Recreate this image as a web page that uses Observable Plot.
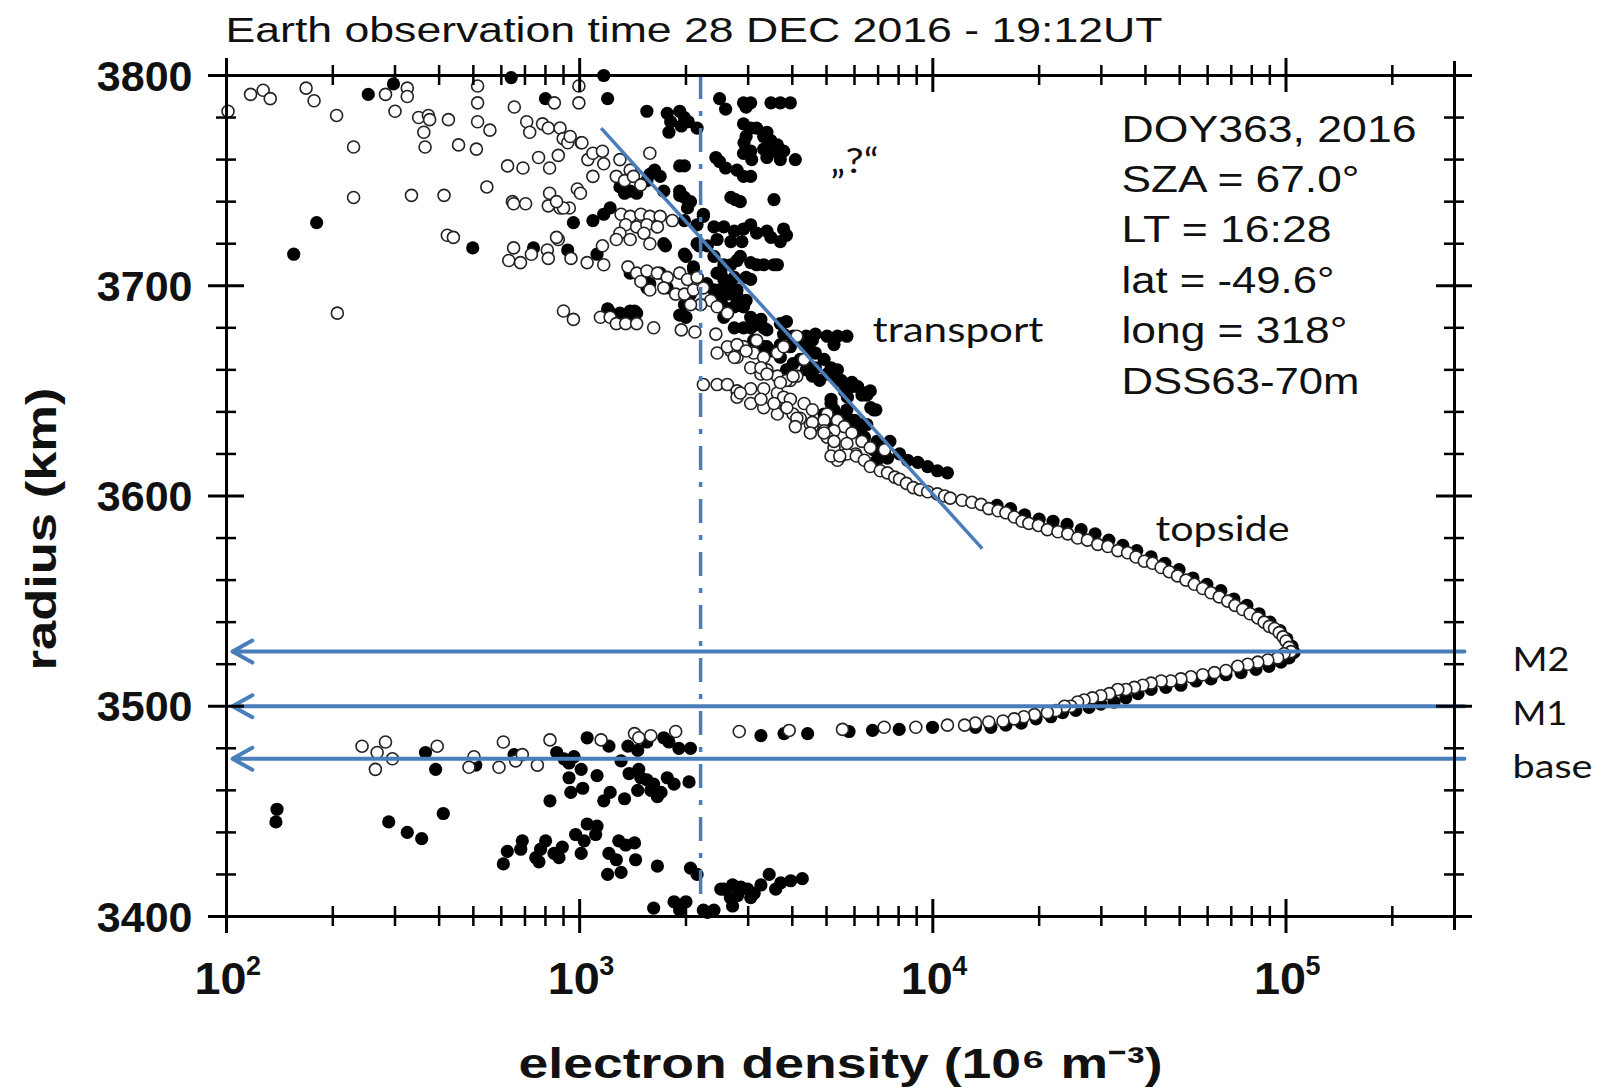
<!DOCTYPE html>
<html><head><meta charset="utf-8">
<script src="https://cdn.jsdelivr.net/npm/d3@7"></script>
<script src="https://cdn.jsdelivr.net/npm/@observablehq/plot@0.6"></script>
<style>html,body{margin:0;padding:0;background:#fff;} svg{display:block;}</style>
</head><body><div id="chart"></div>
<script>
// ---------- DATA: [electron density (10^6 m^-3), radius (km)] ----------
const openUpper = [
[117,3791],[127,3793],[133,3789],[168,3794],[177,3788],[205,3781],[229,3766],[229,3742],[206,3687],[282,3791],[300,3783],[325,3794],[325,3790],[350,3780],[373,3781],[376,3779],[362,3773],[365,3766],[425,3779],[454,3767],[510,3765],[514,3778],[514,3787],[514,3795],[557,3774],[334,3743],[413,3743],[546,3747],[422,3724],[439,3723],[653,3785],[708,3778],[722,3773],[625,3757],[691,3756],[765,3761],[822,3756],[870,3762],[785,3777],[815,3775],[880,3775],[848,3787],[995,3787],[995,3795],[898,3770],[925,3768],[1010,3768],[985,3746],[1005,3744],[822,3744],[815,3738],[880,3737],[935,3737],[645,3740],[650,3739],[703,3739],[650,3718],[630,3712],[680,3711],[730,3715],[810,3717],[815,3713],[870,3722],[945,3713],[1050,3711],[1090,3752],[1055,3760],[1090,3763],[1160,3764],[1170,3758],[900,3688],[960,3684],[1145,3685],[1170,3710],[1160,3719],[101,3783],[900,3737],[860,3740],[860,3723],[940,3771],[1015,3768],
[1300,3760],[1390,3755],[1270,3752],[1340,3750],[1420,3752],[1490,3748],[1580,3763],[1310,3734],[1390,3733],[1490,3734],[1580,3733],[1690,3733],[1830,3731],[1350,3729],[1450,3728],[1550,3729],[1660,3728],[1300,3725],[1390,3722],[1520,3725],[1580,3720],[1270,3722],[1370,3709],[1450,3706],[1550,3707],[1660,3706],[1770,3704],[1920,3706],[2020,3703],[2150,3704],[1490,3702],[1580,3698],[1730,3699],[1870,3696],[1980,3696],[2100,3698],[2240,3699],[2350,3693],[2200,3691],[2060,3691],[1220,3685],[1270,3682],[1350,3682],[1450,3682],[1620,3680],[1940,3679],[2120,3678],[2430,3677],[2450,3690],[2620,3687]
];
const openTransport = [
[2450,3668],[2680,3669],[2910,3671],[2790,3666],[3110,3668],[3320,3666],[3630,3668],[3780,3671],[4120,3676],[4320,3665],[3390,3660],[3630,3657],[3950,3655],[4120,3657],[3050,3661],[3260,3658],[2240,3653],[2450,3653],[2620,3653],[2790,3650],[3050,3651],[3320,3651],[3630,3649],[3780,3647],[3950,3646],[4320,3644],[4560,3641],[5020,3639],[5370,3636],[5620,3633],[5900,3630],[6300,3626],[6650,3623],[7300,3622],[2790,3647],[3050,3644],[3320,3642],[3630,3639],[4120,3636],[4560,3633],[4920,3636],[5250,3623],[5500,3619],[6050,3620],[2620,3671],[2790,3672],[2960,3669],[3170,3674],[2740,3666],[3260,3661],[3390,3658],[3850,3655],[4020,3657],[3700,3654],[2850,3649],[3260,3646],[3550,3644],[3850,3642],[4020,3639],[4210,3637],[4500,3634],[4920,3631],[5250,3631],[5020,3628],[5370,3617],[5710,3620],[3860,3642],[4120,3637],[4080,3633],[4560,3635],[4500,3630],[4920,3630],[5250,3626],[5710,3625],[5150,3619],[5450,3619],[6070,3619],[6400,3617],[6650,3614],[7100,3612],[7440,3611],[7800,3609],[8050,3608],[8420,3606],[8800,3604],[9200,3603],[9670,3602],[10300,3601],[10800,3600],[11200,3599]
];
const openTopside = [
[12100,3598],[12900,3597],[13700,3596],[14400,3594],[15300,3593],[16100,3592],[17000,3590],[17900,3588],[18700,3587],[19900,3586],[21100,3584],[22600,3583],[24100,3582],[25700,3580],[27400,3579],[29300,3577],[31300,3576],[33400,3574],[35600,3573],[37600,3571],[39700,3569],[41900,3568],[44300,3566],[46700,3564],[49300,3562],[52100,3560],[55000,3558],[58100,3556],[61300,3554],[64700,3552],[68400,3550],[71700,3548],[75400,3546],[79100,3544],[83200,3542],[86700,3540],[89700,3538],[92800,3537],[95700,3535],[98100,3533],[100000,3531],[102000,3528],[103300,3526]
];
const openBottomside = [
[98700,3525],[94700,3523],[88800,3522],[83200,3521],[77900,3520],[73000,3519],[67600,3517],[62700,3516],[58100,3515],[53800,3514],[50400,3513],[47200,3512],[44300,3512],[41500,3511],[39300,3510],[37200,3509],[35200,3508],[33400,3508],[31600,3506],[29900,3505],[28300,3504],[26800,3503],[25700,3502],[24600,3500],[23600,3500],[22300,3498],[21100,3497],[19400,3496],[18100,3495],[17000,3494],[15800,3493],[14400,3492.5],[13200,3492],[12300,3491],[11000,3491],[8950,3490],[7280,3490],[5550,3489],[3920,3488.5],[2830,3488]
];
const openLower = [
[242,3481],[267,3478],[282,3483],[295,3475],[264,3470],[395,3481],[502,3476],[486,3471],[608,3483],[591,3471],[659,3474],[688,3477],[759,3472],[824,3484],[1150,3484],[1430,3487],[1470,3485],[1590,3486],[1870,3488]
];
const filledUpper = [
[252,3791],[297,3796],[180,3730],[155,3715],[498,3718],[740,3718],[800,3789],[960,3730],[1090,3731],[925,3717],[1120,3715],[1200,3789],[1210,3688],[640,3799],[1170,3800],
[1550,3783],[1770,3782],[1920,3783],[1980,3780],[1810,3778],[1940,3776],[1790,3773],[2030,3778],[2150,3775],[2490,3789],[2590,3784],[2910,3787],[3050,3787],[2960,3785],[3480,3787],[3700,3787],[3950,3787],[2910,3777],[3050,3775],[3170,3775],[3320,3771],[2960,3771],[2920,3768],[3050,3764],[2910,3763],[3070,3760],[3390,3773],[3480,3769],[3630,3767],[3780,3764],[3700,3760],[3550,3764],[3320,3765],[3390,3761],[4080,3760],[2430,3761],[2490,3759],[2590,3756],[2790,3755],[2910,3752],[3050,3752],[1920,3757],[1980,3757],[1580,3753],[1690,3752],[1630,3755],[2680,3742],[2850,3740],[2760,3741],[3550,3741],[1300,3747],[1390,3745],[1450,3744],[1340,3744],[1220,3737],[1170,3734],[1550,3750],[1730,3745],[1920,3745],[1980,3742],[2020,3737],[1920,3743],[2060,3740],[2240,3733],[2400,3728],[2560,3728],[2740,3726],[2910,3727],[3050,3729],[3170,3725],[3390,3726],[3480,3723],[3780,3727],[3850,3724],[2450,3722],[2680,3721],[2880,3721],[1730,3720],[1980,3715],[2150,3720],[2300,3719],[2400,3714],[2560,3710],[2790,3712],[3050,3711],[3320,3710],[3630,3710],[2450,3706],[2560,3703],[2740,3704],[2680,3699],[2790,3698],[2960,3704],[3050,3703],[2620,3696],[2490,3698],[2790,3693],[2910,3690],[2560,3690],[2100,3709],[2150,3704],[2060,3696],[1390,3706],[1520,3704],[1580,3701],[1690,3706],[1770,3699],[1550,3699],[1980,3691],[1920,3686],[2000,3685],[1200,3689],[1390,3688],[1450,3687],[1300,3687],[2150,3729],[1980,3731],[2240,3734],
[1750,3719],[2000,3714],[2180,3719],[2100,3708],[1430,3688],[1400,3685],[2290,3701],[2400,3698],[2510,3706],[2620,3702],[2680,3710],[2850,3714],[3170,3710],[3550,3710],[3700,3721],[2510,3693],[2620,3687],[2740,3690],[2790,3695],[2960,3693],[2560,3685]
];
const filledTransport = [
[3050,3685],[3260,3684],[2740,3680],[2910,3680],[3110,3681],[3320,3680],[3700,3682],[3780,3677],[4020,3674],[4320,3672],[3950,3671],[3700,3672],[4650,3677],[5020,3676],[5370,3676],[5710,3676],[5250,3672],[4500,3669],[4650,3668],[4380,3665],[4920,3665],[4650,3661],[5150,3661],[5020,3658],[5370,3660],[5370,3655],[5620,3650],[5900,3652],[6400,3649],[6650,3650],[6800,3641],[5150,3646],[5250,3641],[5620,3639],[5900,3636],[6130,3633],[6500,3634],[6400,3628],[6950,3626],[7300,3623],[7560,3626],[8050,3620],[3110,3674],[2910,3671],[3320,3671],[3480,3669],
[3050,3680],[3390,3679],[3850,3683],[4020,3676],[4380,3676],[4560,3674],[3390,3671],[3700,3666],[4020,3663],[4210,3665],[3850,3660],[4380,3660],[4560,3657],[4780,3655],[5150,3658],[5500,3655],[5900,3654],[6130,3652],[5150,3644],[5370,3638],[5710,3641],[6000,3636],[6300,3634],
[5730,3647],[6300,3648],[6670,3642],[4920,3639],[5500,3638],[5900,3634],[6200,3631],[5250,3634],[6800,3622],[7110,3620],[7440,3618],[6950,3617],[8480,3617],[9070,3616],[9670,3614],[10300,3612],[11000,3611],[9200,3603],[6500,3648],[6900,3641]
];
const filledTopside = [
[15200,3595.5],[16600,3594],[18200,3591],[20000,3589],[21900,3588],[24000,3586.5],[26300,3584],[28800,3582],[31500,3579],[34500,3576.5],[37800,3574],[41500,3571],[45400,3568],[49800,3565],[54500,3561],[59700,3558],[65400,3555],[71200,3551],[77500,3548],[83900,3544],[90100,3540],[96200,3536],[100600,3532],[104000,3528.5],[105400,3525.6]
];
const filledBottomside = [
[102000,3523],[96800,3521],[89500,3519],[82200,3517.5],[74600,3516],[67600,3515],[61300,3513],[55600,3512],[50400,3510],[45700,3509],[41500,3508],[38100,3506],[35200,3504],[32600,3502],[29900,3501],[27700,3499.5],[25400,3498],[23300,3497],[21600,3495],[19600,3494],[17800,3492],[16100,3491],[14600,3490],[13200,3490],
[3260,3486],[3790,3487],[4420,3487],[5790,3488],[6750,3488.5],[8030,3489],[9980,3490]
];
const filledLower = [
[139,3451],[138,3445],[288,3445],[325,3440],[357,3437],[411,3449],[366,3478],[391,3470],[508,3472],[652,3477],[861,3478],[903,3475],[964,3476],[933,3473],[1010,3470],[1050,3485],[1210,3481],[1370,3481],[1460,3479],[1730,3485],[1790,3483],[1910,3480],[2060,3480],[1550,3483],[1310,3474],[933,3466],[1020,3461],[944,3459],[824,3455],[1120,3467],
[1380,3468],[1470,3470],[1490,3466],[1550,3465],[1620,3463],[1590,3460],[1700,3459],[1660,3457],[1770,3466],[1850,3463],[1460,3460],[1340,3456],[1220,3459],[1170,3455],[2040,3464],
[608,3425],[624,3431],[688,3436],[681,3432],[751,3428],[775,3432],[801,3436],[767,3426],[846,3430],[893,3433],[874,3428],[974,3439],[1030,3436],[1110,3439],[1010,3430],[1050,3444],[1120,3443],[1210,3430],[1270,3427],[1200,3420],[1310,3421],[1290,3436],[1350,3434],[1430,3435],[1440,3427],[1660,3424],[2060,3423],[2150,3420],[1620,3404],[1850,3407],[2000,3407],[1920,3403],[2300,3402],[2400,3403],[2510,3413],
[2240,3403],[2560,3413],[2710,3415],[2860,3414],[2670,3409],[2800,3410],[2990,3413],[3120,3411],[3260,3415],[3440,3420],[3590,3413],[3710,3416],[3960,3417],[4270,3418],[3050,3409],[2710,3405]
];

// axis ticks and labels
const radiusTicks = [3400, 3500, 3600, 3700, 3800];
const radiusMinorTicks = [3420,3440,3460,3480,3520,3540,3560,3580,3620,3640,3660,3680,3720,3740,3760,3780];
const densityTicks = [100, 1000, 10000, 100000];
const densityExponents = ["2", "3", "4", "5"];
const densityMinorTicks = [200,300,400,500,600,700,800,900,2000,3000,4000,5000,6000,7000,8000,9000,20000,30000,40000,50000,60000,70000,80000,90000,200000];
const densityDomain = [100, 300000];
const radiusDomain = [3400, 3800];

// reference lines
const markerLevels = [3526, 3500, 3475];
const markerLabels = ["M2", "M1", "base"];
const arrowFrom = 320000, arrowTo = 104;
const dashLine = [{x: 2200, top: 3800, bottom: 3408}];
const transportLine = [{x1: 1150, y1: 3775, x2: 13800, y2: 3575}];

// texts
const titleText = "Earth observation time 28 DEC 2016 - 19:12UT";
const infoLines = ["DOY363, 2016", "SZA = 67.0°", "LT = 16:28", "lat = -49.6°", "long = 318°", "DSS63-70m"];
const annotationTexts = ["„?“", "transport", "topside"];
const xTitle = "electron density (10⁶ m⁻³)";
const yTitle = "radius (km)";

// ---------- CHART ----------
const toObj = arr => arr.map(([d, r]) => ({d, r}));
const filled = toObj([...filledUpper, ...filledTransport, ...filledTopside, ...filledBottomside, ...filledLower]);
const open = toObj([...openUpper, ...openTransport, ...openTopside, ...openBottomside, ...openLower]);

const blue = "#4a7ebb";
const sans = "Liberation Sans, Arial, sans-serif";
const calib = "Lato, Open Sans, sans-serif";
const xL = densityDomain[0], xR = densityDomain[1], yB = radiusDomain[0], yT = radiusDomain[1];

const annPos = [{dx: 604, dy: 97}, {dx: 646, dy: 266}, {dx: 929, dy: 465}];

const marks = [
  Plot.dot(filled, {x: "d", y: "r", r: 6.6, fill: "#000", stroke: "none"}),
  Plot.dot(open, {x: "d", y: "r", r: 6, fill: "#fff", stroke: "#222", strokeWidth: 1.6}),
  // reference lines
  Plot.ruleX(dashLine, {x: "x", y1: "top", y2: "bottom", stroke: blue, strokeWidth: 3.5, strokeDasharray: "24,12,5,12"}),
  Plot.link(transportLine, {x1: "x1", y1: "y1", x2: "x2", y2: "y2", stroke: blue, strokeWidth: 3.5}),
  Plot.arrow(markerLevels, {x1: () => arrowFrom, x2: () => arrowTo, y1: d => d, y2: d => d, stroke: blue, strokeWidth: 4, headLength: 8.5, headAngle: 58}),
  // frame
  Plot.ruleY([yB, yT], {stroke: "#000", strokeWidth: 3, insetLeft: -18, insetRight: -18}),
  Plot.ruleX([xL, xR], {stroke: "#000", strokeWidth: 3, insetTop: -14, insetBottom: -14}),
  // y ticks (left & right)
  ...[xL, xR].flatMap(xv => [
    Plot.ruleY(radiusMinorTicks, {y: d => d, x1: () => xv, x2: () => xv, insetLeft: -10, insetRight: -10, stroke: "#000", strokeWidth: 2.5}),
    Plot.ruleY(radiusTicks, {y: d => d, x1: () => xv, x2: () => xv, insetLeft: -18, insetRight: -18, stroke: "#000", strokeWidth: 3})
  ]),
  // x ticks (bottom & top)
  ...[yB, yT].flatMap(yv => [
    Plot.ruleX(densityMinorTicks, {x: d => d, y1: () => yv, y2: () => yv, insetTop: -10, insetBottom: -10, stroke: "#000", strokeWidth: 2.5}),
    Plot.ruleX(densityTicks, {x: d => d, y1: () => yv, y2: () => yv, insetTop: -17, insetBottom: -17, stroke: "#000", strokeWidth: 3})
  ]),
  // tick labels
  Plot.text(radiusTicks, {y: d => d, text: d => String(d), frameAnchor: "left", textAnchor: "end", lineAnchor: "bottom", dx: -34, dy: 15, fontSize: 43, fontWeight: "bold", fontFamily: sans, fill: "#111"}),
  Plot.text(densityTicks, {x: d => d, text: () => "10", frameAnchor: "bottom", textAnchor: "middle", lineAnchor: "bottom", dx: -6, dy: 77, fontSize: 44, fontWeight: "bold", fontFamily: sans, fill: "#111"}),
  Plot.text(densityTicks, {x: d => d, text: (d, i) => densityExponents[i], frameAnchor: "bottom", textAnchor: "middle", lineAnchor: "bottom", dx: 27, dy: 58, fontSize: 27, fontWeight: "bold", fontFamily: sans, fill: "#111"}),
  // axis titles
  Plot.text([yTitle], {frameAnchor: "left", rotate: -90, textAnchor: "middle", lineAnchor: "bottom", dx: -171, dy: 33, fontSize: 43, fontWeight: "bold", fontFamily: sans, fill: "#111"}),
  Plot.text([xTitle], {frameAnchor: "bottom", textAnchor: "middle", lineAnchor: "bottom", dy: 161, fontSize: 43, fontWeight: "bold", fontFamily: sans, fill: "#111"}),
  // title
  Plot.text([titleText], {frameAnchor: "top-left", textAnchor: "start", lineAnchor: "bottom", dx: -1, dy: -34, fontSize: 35, fontFamily: sans, fill: "#111"}),
  // info block
  ...infoLines.map((t, i) => Plot.text([t], {frameAnchor: "top-left", textAnchor: "start", lineAnchor: "bottom", dx: 895, dy: 66 + 50.4 * i, fontSize: 36, fontFamily: sans, fill: "#111"})),
  // annotations
  ...annotationTexts.map((t, i) => Plot.text([t], {frameAnchor: "top-left", textAnchor: "start", lineAnchor: "bottom", dx: annPos[i].dx, dy: annPos[i].dy, fontSize: 34, fontFamily: calib, fill: "#111"})),
  Plot.text(markerLevels, {y: d => d, text: (d, i) => markerLabels[i], frameAnchor: "right", textAnchor: "start", lineAnchor: "bottom", dx: 58, dy: 19, fontSize: 33, fontFamily: calib, fill: "#111"})
];

const svg = Plot.plot({
  width: 1605, height: 1091,
  marginLeft: 226, marginRight: 151, marginTop: 75, marginBottom: 175,
  x: {type: "log", domain: densityDomain, axis: null},
  y: {domain: radiusDomain, axis: null},
  style: {background: "#fff", overflow: "visible"},
  marks
});
document.getElementById("chart").appendChild(svg);

// stretch texts horizontally like the original figure
const targetWidths = new Map([
  [titleText, 937], [infoLines[0], 295], [infoLines[1], 238], [infoLines[2], 210], [infoLines[3], 213], [infoLines[4], 226], [infoLines[5], 238],
  ["„?“", 48], ["transport", 171], ["topside", 134], ["M2", 57], ["M1", 55], ["base", 80],
  [yTitle, 283], [xTitle, 644], ["10", 52]
]);
svg.querySelectorAll("text").forEach(t => {
  const w = targetWidths.get(t.textContent);
  if (w) { t.setAttribute("textLength", w); t.setAttribute("lengthAdjust", "spacingAndGlyphs"); }
});
</script></body></html>
